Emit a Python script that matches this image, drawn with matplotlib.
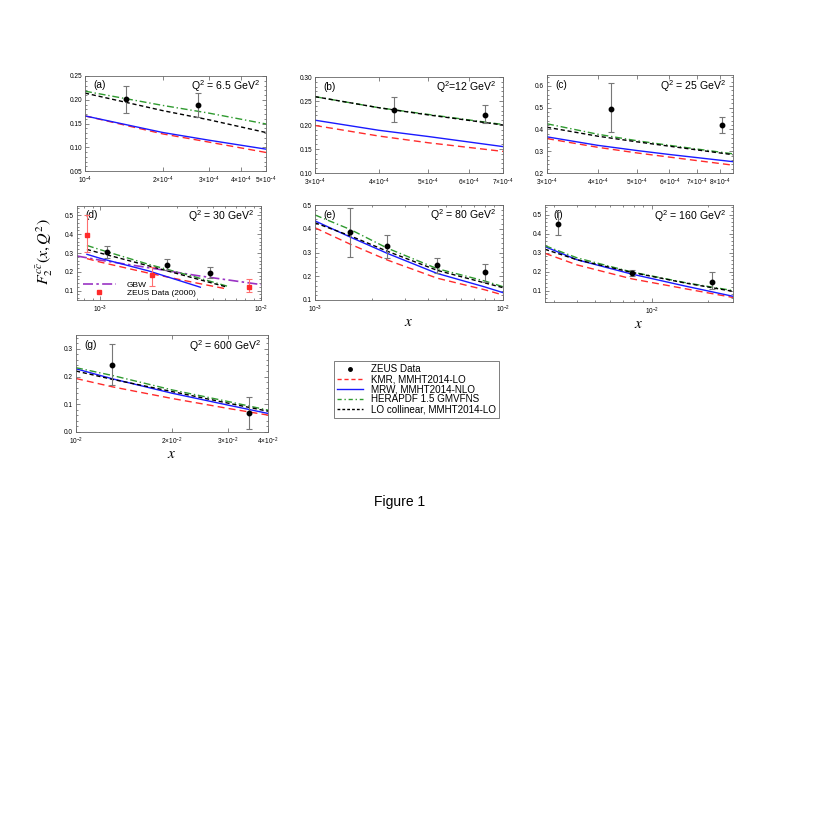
import numpy as np
import matplotlib
matplotlib.use("Agg")
import matplotlib.pyplot as plt
from matplotlib.lines import Line2D
from matplotlib.ticker import FixedLocator, NullFormatter, NullLocator, LogLocator, MultipleLocator

plt.rcParams['font.family'] = ['Liberation Sans', 'DejaVu Sans']
plt.rcParams['mathtext.fontset'] = 'custom'
plt.rcParams['mathtext.rm'] = 'Liberation Sans'
plt.rcParams['mathtext.it'] = 'Liberation Sans:italic'

# ---------------- data ----------------
# (a) Q2 = 6.5
xa = [1.0e-4, 2.0e-4, 3.0e-4, 5.0e-4]
kmr_a = [0.166, 0.128, 0.111, 0.089]
mrw_a = [0.166, 0.131, 0.115, 0.096]
hera_a = [0.218, 0.188, 0.172, 0.149]
lo_a = [0.214, 0.177, 0.158, 0.131]
zx_a = [1.44e-4, 2.74e-4]
zy_a = [0.201, 0.188]
zlo_a = [0.028, 0.025]
zhi_a = [0.029, 0.026]

# (b) Q2 = 12
xb = [3.0e-4, 4.0e-4, 5.0e-4, 7.0e-4]
kmr_b = [0.199, 0.177, 0.163, 0.145]
mrw_b = [0.210, 0.189, 0.176, 0.155]
hera_b = [0.259, 0.236, 0.222, 0.201]
lo_b = [0.259, 0.236, 0.221, 0.200]
zx_b = [4.28e-4, 6.45e-4]
zy_b = [0.232, 0.221]
zlo_b = [0.026, 0.016]
zhi_b = [0.027, 0.021]

# (c) Q2 = 25
xc = [3.0e-4, 4.0e-4, 5.0e-4, 6.0e-4, 8.6e-4]
kmr_c = [0.358, 0.318, 0.292, 0.273, 0.236]
mrw_c = [0.366, 0.327, 0.303, 0.285, 0.252]
hera_c = [0.426, 0.378, 0.348, 0.327, 0.288]
lo_c = [0.410, 0.369, 0.343, 0.323, 0.284]
zx_c = [4.3e-4, 8.1e-4]
zy_c = [0.494, 0.421]
zlo_c = [0.107, 0.037]
zhi_c = [0.119, 0.037]

# (d) Q2 = 30
xd = [8.3e-4, 1.0e-3, 2.0e-3, 4.0e-3, 6.2e-3]
kmr_d = [0.270, 0.252, 0.193, 0.140, 0.108]
xd_mrw = [8.3e-4, 1.0e-3, 2.0e-3, 4.2e-3]
mrw_d = [0.293, 0.272, 0.205, 0.118]
hera_d = [0.340, 0.318, 0.240, 0.170, 0.123]
lo_d = [0.319, 0.300, 0.232, 0.162, 0.118]
xd_gbw = [7.2e-4, 1.0e-3, 2.0e-3, 4.0e-3, 1.0e-2]
gbw_d = [0.284, 0.262, 0.222, 0.180, 0.132]
zx_d = [1.11e-3, 2.6e-3, 4.79e-3]
zy_d = [0.307, 0.237, 0.196]
zlo_d = [0.032, 0.028, 0.029]
zhi_d = [0.030, 0.030, 0.027]
z00x_d = [8.26e-4, 2.1e-3, 8.4e-3]
z00y_d = [0.398, 0.182, 0.121]
z00lo_d = [0.091, 0.059, 0.030]
z00hi_d = [0.102, 0.041, 0.040]

# (e) Q2 = 80
xe = [1.0e-3, 1.54e-3, 2.43e-3, 4.46e-3, 8.0e-3, 1.0e-2]
kmr_e = [0.404, 0.335, 0.268, 0.192, 0.143, 0.121]
mrw_e = [0.433, 0.365, 0.296, 0.212, 0.155, 0.131]
hera_e = [0.458, 0.397, 0.318, 0.232, 0.180, 0.156]
lo_e = [0.425, 0.370, 0.305, 0.225, 0.172, 0.152]
zx_e = [1.54e-3, 2.43e-3, 4.46e-3, 8.03e-3]
zy_e = [0.386, 0.326, 0.246, 0.216]
zlo_e = [0.104, 0.048, 0.034, 0.042]
zhi_e = [0.101, 0.046, 0.032, 0.036]

# (f) Q2 = 160
xf = [2.7e-3, 4.0e-3, 7.8e-3, 1.5e-2, 2.7e-2]
kmr_f = [0.296, 0.235, 0.162, 0.110, 0.064]
mrw_f = [0.331, 0.262, 0.187, 0.124, 0.070]
hera_f = [0.336, 0.272, 0.198, 0.142, 0.100]
lo_f = [0.317, 0.262, 0.196, 0.140, 0.096]
zx_f = [3.15e-3, 7.8e-3, 2.1e-2]
zy_f = [0.450, 0.192, 0.144]
zlo_f = [0.057, 0.017, 0.035]
zhi_f = [0.062, 0.015, 0.054]

# (g) Q2 = 600
xg = [1.0e-2, 1.3e-2, 2.0e-2, 3.0e-2, 4.0e-2]
kmr_g = [0.193, 0.163, 0.121, 0.085, 0.061]
mrw_g = [0.228, 0.192, 0.140, 0.097, 0.067]
hera_g = [0.232, 0.204, 0.152, 0.110, 0.079]
lo_g = [0.220, 0.190, 0.146, 0.104, 0.075]
zx_g = [1.3e-2, 3.49e-2]
zy_g = [0.243, 0.070]
zlo_g = [0.075, 0.058]
zhi_g = [0.075, 0.058]

legend_labels = ["ZEUS Data", "KMR, MMHT2014-LO", "MRW, MMHT2014-NLO",
                 "HERAPDF 1.5 GMVFNS", "LO collinear, MMHT2014-LO"]

RED = "#ff2b2b"
BLUE = "#1a1aff"
GREEN = "#2f9a2f"
PURPLE = "#9a33c4"

fig = plt.figure(figsize=(8.18, 8.17), dpi=100)
W, H = 818.0, 817.0


def add_ax(x0, x1, y0, y1):
    return fig.add_axes([x0 / W, 1 - y1 / H, (x1 - x0) / W, (y1 - y0) / H])


def draw_panel(ax, x, kmr, mrw, hera, lo, zx, zy, zlo, zhi, xmrw=None):
    if xmrw is None:
        xmrw = x
    ax.plot(x, kmr, color=RED, lw=1.0, dashes=(5, 3))
    ax.plot(xmrw, mrw, color=BLUE, lw=1.0)
    ax.plot(x, hera, color=GREEN, lw=1.0, dashes=(5, 2, 1, 2))
    ax.plot(x, lo, color="k", lw=1.0, dashes=(3, 2))
    ax.errorbar(zx, zy, yerr=[zlo, zhi], fmt="o", color="k", ms=3.2,
                ecolor="#777777", elinewidth=0.8, capsize=2, capthick=0.8, zorder=5)


def style(ax, xlim, ylim, xt, xtl, yt, yfmt, ymin, label, qtext, xminor=False):
    ax.set_xscale("log")
    ax.set_xlim(*xlim)
    ax.set_ylim(*ylim)
    ax.xaxis.set_major_locator(FixedLocator(xt))
    ax.set_xticklabels(xtl)
    if xminor:
        ax.xaxis.set_minor_locator(LogLocator(base=10, subs=np.arange(2, 10)))
    else:
        ax.xaxis.set_minor_locator(NullLocator())
    ax.xaxis.set_minor_formatter(NullFormatter())
    ax.yaxis.set_major_locator(FixedLocator(yt))
    ax.set_yticklabels([yfmt % v for v in yt])
    ax.yaxis.set_minor_locator(MultipleLocator(ymin))
    ax.tick_params(which="both", direction="in", top=True, right=True,
                   labelsize=4.7, width=0.5, color="#555555", pad=2)
    ax.tick_params(axis="x", which="major", pad=3)
    ax.tick_params(which="major", length=3)
    ax.tick_params(which="minor", length=1.5)
    for s in ax.spines.values():
        s.set_linewidth(0.6)
        s.set_color("#666666")
    ax.text(0.045, 0.90, label, transform=ax.transAxes, fontsize=7.3, va="center")
    ax.text(0.965, 0.89, qtext, transform=ax.transAxes, fontsize=7.6,
            va="center", ha="right")


# (a)
ax = add_ax(85, 266, 76, 171)
draw_panel(ax, xa, kmr_a, mrw_a, hera_a, lo_a, zx_a, zy_a, zlo_a, zhi_a)
style(ax, (1e-4, 5e-4), (0.05, 0.25), [1e-4, 2e-4, 3e-4, 4e-4, 5e-4],
      [r"$10^{-4}$", r"$2{\times}10^{-4}$", r"$3{\times}10^{-4}$", r"$4{\times}10^{-4}$", r"$5{\times}10^{-4}$"],
      [0.05, 0.10, 0.15, 0.20, 0.25], "%.2f", 0.01, "(a)", r"Q$^2$ = 6.5 GeV$^2$")

# (b)
ax = add_ax(315, 503, 77, 173)
draw_panel(ax, xb, kmr_b, mrw_b, hera_b, lo_b, zx_b, zy_b, zlo_b, zhi_b)
style(ax, (3e-4, 7e-4), (0.10, 0.30), [3e-4, 4e-4, 5e-4, 6e-4, 7e-4],
      [r"$3{\times}10^{-4}$", r"$4{\times}10^{-4}$", r"$5{\times}10^{-4}$", r"$6{\times}10^{-4}$", r"$7{\times}10^{-4}$"],
      [0.10, 0.15, 0.20, 0.25, 0.30], "%.2f", 0.01, "(b)", r"Q$^2$=12 GeV$^2$")

# (c)
ax = add_ax(547, 733, 75, 173)
draw_panel(ax, xc, kmr_c, mrw_c, hera_c, lo_c, zx_c, zy_c, zlo_c, zhi_c)
style(ax, (3e-4, 8.6e-4), (0.2, 0.65), [3e-4, 4e-4, 5e-4, 6e-4, 7e-4, 8e-4],
      [r"$3{\times}10^{-4}$", r"$4{\times}10^{-4}$", r"$5{\times}10^{-4}$", r"$6{\times}10^{-4}$",
       r"$7{\times}10^{-4}$", r"$8{\times}10^{-4}$"],
      [0.2, 0.3, 0.4, 0.5, 0.6], "%.1f", 0.02, "(c)", r"Q$^2$ = 25 GeV$^2$")

# (d)
ax = add_ax(77, 261, 206, 300)
ax.plot(xd_gbw, gbw_d, color=PURPLE, lw=1.2, dashes=(6, 2, 1.5, 2))
draw_panel(ax, xd, kmr_d, mrw_d, hera_d, lo_d, zx_d, zy_d, zlo_d, zhi_d, xmrw=xd_mrw)
ax.errorbar(z00x_d, z00y_d, yerr=[z00lo_d, z00hi_d], fmt="s", color=RED, ms=3,
            ecolor="#ff7070", elinewidth=0.8, capsize=2, capthick=0.8, zorder=6)
style(ax, (7.2e-4, 1e-2), (0.05, 0.55), [1e-3, 1e-2], [r"$10^{-3}$", r"$10^{-2}$"],
      [0.1, 0.2, 0.3, 0.4, 0.5], "%.1f", 0.02, "(d)", r"Q$^2$ = 30 GeV$^2$", xminor=True)
hd = [Line2D([], [], color=PURPLE, lw=1.2, dashes=(6, 2, 1.5, 2)),
      Line2D([], [], color=RED, marker="s", ms=3, ls="none")]
ax.legend(hd, ["GBW", "ZEUS Data (2000)"], loc="lower left", bbox_to_anchor=(0.03, 0.03),
          frameon=False, fontsize=6.0, handlelength=4.0, handletextpad=1.3,
          labelspacing=0.0, borderpad=0, borderaxespad=0)
fig.text(45 / W, 1 - 252 / H, r"$F_2^{c\bar{c}}(x,Q^2)$", rotation=90, fontsize=11.5,
         ha="center", va="center", math_fontfamily="stix")

# (e)
ax = add_ax(315, 503, 205, 300)
draw_panel(ax, xe, kmr_e, mrw_e, hera_e, lo_e, zx_e, zy_e, zlo_e, zhi_e)
style(ax, (1e-3, 1e-2), (0.1, 0.5), [1e-3, 1e-2], [r"$10^{-3}$", r"$10^{-2}$"],
      [0.1, 0.2, 0.3, 0.4, 0.5], "%.1f", 0.02, "(e)", r"Q$^2$ = 80 GeV$^2$", xminor=True)
ax.set_xlabel(r"$x$", fontsize=11, labelpad=0, math_fontfamily="stix")

# (f)
ax = add_ax(545, 733, 205, 302)
draw_panel(ax, xf, kmr_f, mrw_f, hera_f, lo_f, zx_f, zy_f, zlo_f, zhi_f)
style(ax, (2.7e-3, 2.7e-2), (0.04, 0.55), [1e-2], [r"$10^{-2}$"],
      [0.1, 0.2, 0.3, 0.4, 0.5], "%.1f", 0.02, "(f)", r"Q$^2$ = 160 GeV$^2$", xminor=True)
ax.set_xlabel(r"$x$", fontsize=11, labelpad=0, math_fontfamily="stix")

# (g)
ax = add_ax(76, 268, 335, 432)
draw_panel(ax, xg, kmr_g, mrw_g, hera_g, lo_g, zx_g, zy_g, zlo_g, zhi_g)
style(ax, (1e-2, 4e-2), (0.0, 0.35), [1e-2, 2e-2, 3e-2, 4e-2],
      [r"$10^{-2}$", r"$2{\times}10^{-2}$", r"$3{\times}10^{-2}$", r"$4{\times}10^{-2}$"],
      [0.0, 0.1, 0.2, 0.3], "%.1f", 0.02, "(g)", r"Q$^2$ = 600 GeV$^2$")
ax.set_xlabel(r"$x$", fontsize=11, labelpad=0, math_fontfamily="stix")

# figure legend
handles = [Line2D([], [], color="k", marker="o", ms=2.5, ls="none"),
           Line2D([], [], color=RED, lw=1.0, dashes=(3, 2)),
           Line2D([], [], color=BLUE, lw=1.0),
           Line2D([], [], color=GREEN, lw=1.0, dashes=(3, 2, 1, 2)),
           Line2D([], [], color="k", lw=1.0, dashes=(2, 1.5))]
leg = fig.legend(handles, legend_labels, loc="upper left",
                 bbox_to_anchor=(334 / W, 1 - 361 / H), fontsize=7.1,
                 fancybox=False, edgecolor="#444444", handlelength=2.6,
                 handletextpad=0.8, labelspacing=0.0, borderpad=0.35,
                 borderaxespad=0)
leg.get_frame().set_linewidth(0.6)

fig.text(400 / W, 1 - 502 / H, "Figure 1", fontsize=10, ha="center", va="center")

fig.savefig("out.png", dpi=100)
